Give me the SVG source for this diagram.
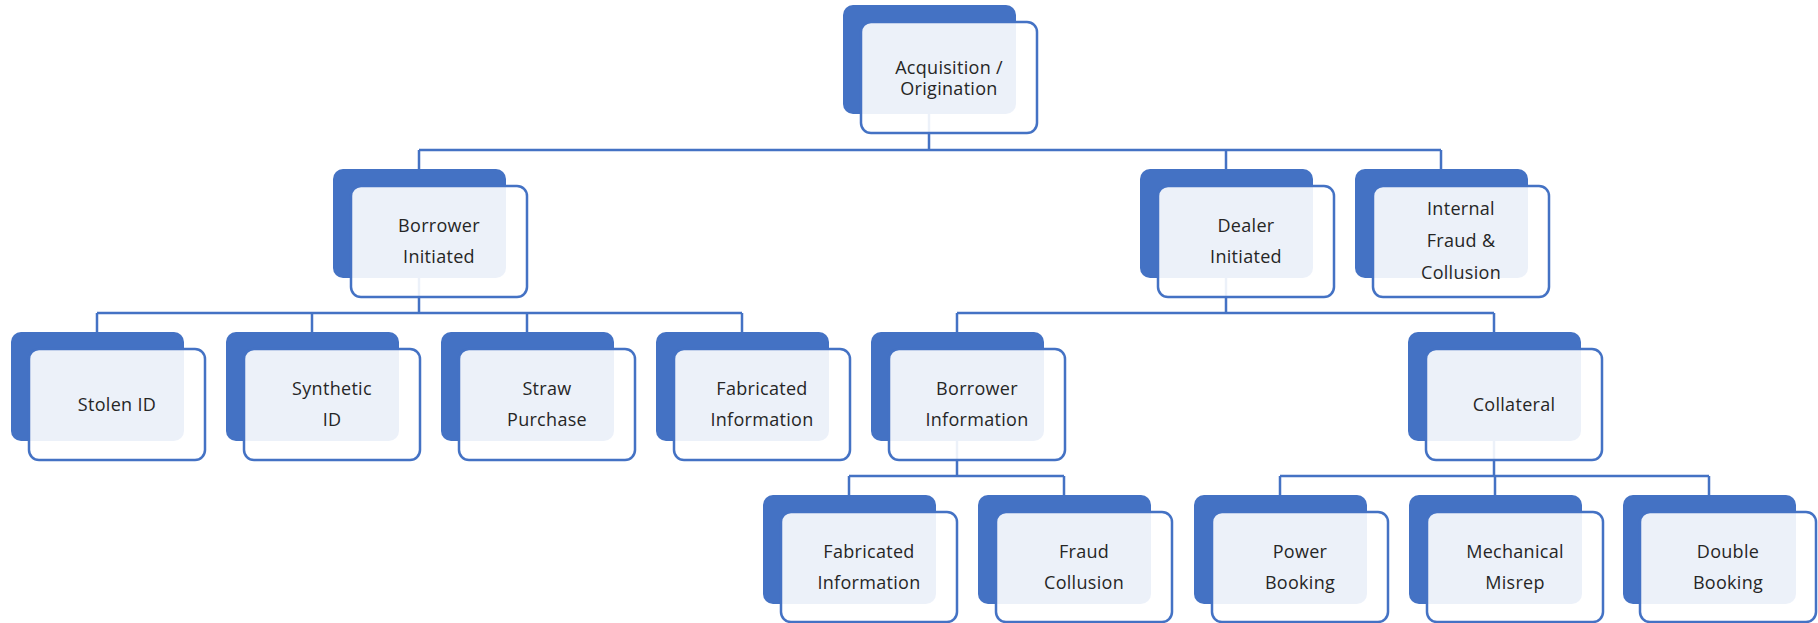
<svg xmlns="http://www.w3.org/2000/svg" width="1818" height="623" viewBox="0 0 1818 623">
<style>
.bk{fill:#4472C4;}
.fr{fill:#fff;fill-opacity:0.9;stroke:#4472C4;stroke-width:2.5;}
.t{font-family:"Open Sans","Liberation Sans",sans-serif;font-size:18px;letter-spacing:0.3px;fill:#262626;text-anchor:middle;}
.c{fill:none;stroke:#4472C4;stroke-width:2.5;}
</style>
<rect width="1818" height="623" fill="#fff"/>
<g id="connectors">
<path class="c" d="M929 114V150M419 150H1441M419 150V169M1226 150V169M1441 150V169"/>
<path class="c" d="M419 278V313M97 313H742M97 313V332M312 313V332M527 313V332M742 313V332"/>
<path class="c" d="M1226 278V313M957 313H1494M957 313V332M1494 313V332"/>
<path class="c" d="M957 441V476M849 476H1064M849 476V495M1064 476V495"/>
<path class="c" d="M1494 441V476M1280 476H1709M1280 476V495M1495 476V495M1709 476V495"/>
</g>
<g id="n-acq"><rect class="bk" x="843" y="5" width="173" height="109" rx="10"/><rect class="fr" x="861" y="22" width="176" height="111" rx="10"/><text class="t" x="949" y="74">Acquisition /</text><text class="t" x="949" y="95">Origination</text></g>
<g id="n-bi"><rect class="bk" x="333" y="169" width="173" height="109" rx="10"/><rect class="fr" x="351" y="186" width="176" height="111" rx="10"/><text class="t" x="439" y="232">Borrower</text><text class="t" x="439" y="263">Initiated</text></g>
<g id="n-di"><rect class="bk" x="1140" y="169" width="173" height="109" rx="10"/><rect class="fr" x="1158" y="186" width="176" height="111" rx="10"/><text class="t" x="1246" y="232">Dealer</text><text class="t" x="1246" y="263">Initiated</text></g>
<g id="n-if"><rect class="bk" x="1355" y="169" width="173" height="109" rx="10"/><rect class="fr" x="1373" y="186" width="176" height="111" rx="10"/><text class="t" x="1461" y="215">Internal</text><text class="t" x="1461" y="247">Fraud &amp;</text><text class="t" x="1461" y="279">Collusion</text></g>
<g id="n-stolen"><rect class="bk" x="11" y="332" width="173" height="109" rx="10"/><rect class="fr" x="29" y="349" width="176" height="111" rx="10"/><text class="t" x="117" y="411">Stolen ID</text></g>
<g id="n-synth"><rect class="bk" x="226" y="332" width="173" height="109" rx="10"/><rect class="fr" x="244" y="349" width="176" height="111" rx="10"/><text class="t" x="332" y="395">Synthetic</text><text class="t" x="332" y="426">ID</text></g>
<g id="n-straw"><rect class="bk" x="441" y="332" width="173" height="109" rx="10"/><rect class="fr" x="459" y="349" width="176" height="111" rx="10"/><text class="t" x="547" y="395">Straw</text><text class="t" x="547" y="426">Purchase</text></g>
<g id="n-fab1"><rect class="bk" x="656" y="332" width="173" height="109" rx="10"/><rect class="fr" x="674" y="349" width="176" height="111" rx="10"/><text class="t" x="762" y="395">Fabricated</text><text class="t" x="762" y="426">Information</text></g>
<g id="n-binfo"><rect class="bk" x="871" y="332" width="173" height="109" rx="10"/><rect class="fr" x="889" y="349" width="176" height="111" rx="10"/><text class="t" x="977" y="395">Borrower</text><text class="t" x="977" y="426">Information</text></g>
<g id="n-coll"><rect class="bk" x="1408" y="332" width="173" height="109" rx="10"/><rect class="fr" x="1426" y="349" width="176" height="111" rx="10"/><text class="t" x="1514" y="411">Collateral</text></g>
<g id="n-fab2"><rect class="bk" x="763" y="495" width="173" height="109" rx="10"/><rect class="fr" x="781" y="512" width="176" height="110" rx="10"/><text class="t" x="869" y="558">Fabricated</text><text class="t" x="869" y="589">Information</text></g>
<g id="n-fraud"><rect class="bk" x="978" y="495" width="173" height="109" rx="10"/><rect class="fr" x="996" y="512" width="176" height="110" rx="10"/><text class="t" x="1084" y="558">Fraud</text><text class="t" x="1084" y="589">Collusion</text></g>
<g id="n-power"><rect class="bk" x="1194" y="495" width="173" height="109" rx="10"/><rect class="fr" x="1212" y="512" width="176" height="110" rx="10"/><text class="t" x="1300" y="558">Power</text><text class="t" x="1300" y="589">Booking</text></g>
<g id="n-mech"><rect class="bk" x="1409" y="495" width="173" height="109" rx="10"/><rect class="fr" x="1427" y="512" width="176" height="110" rx="10"/><text class="t" x="1515" y="558">Mechanical</text><text class="t" x="1515" y="589">Misrep</text></g>
<g id="n-double"><rect class="bk" x="1623" y="495" width="173" height="109" rx="10"/><rect class="fr" x="1640" y="512" width="176" height="110" rx="10"/><text class="t" x="1728" y="558">Double</text><text class="t" x="1728" y="589">Booking</text></g>
</svg>
